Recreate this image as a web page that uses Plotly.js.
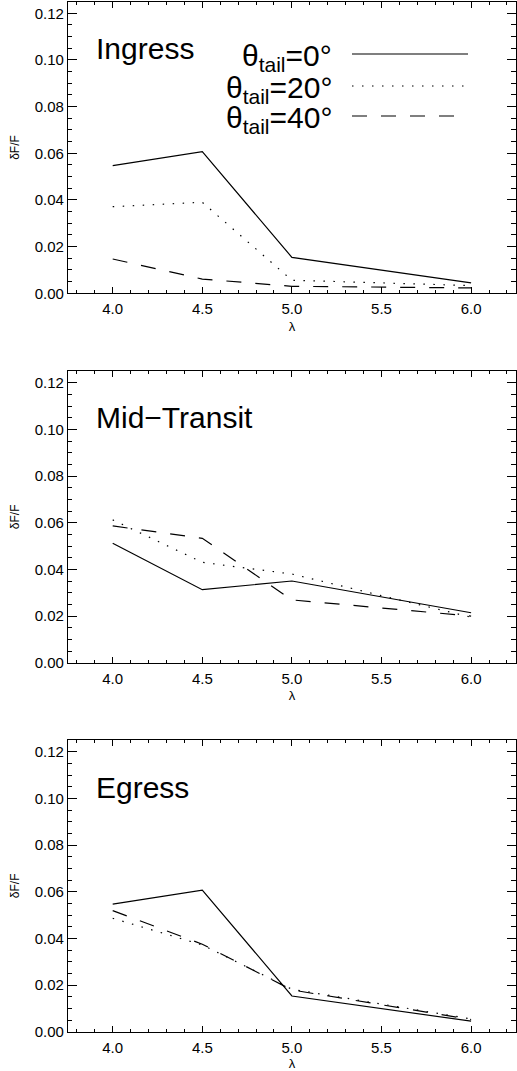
<!DOCTYPE html>
<html>
<head>
<meta charset="utf-8">
<script src="https://cdn.plot.ly/plotly-3.0.1.min.js"></script>
<style>html,body{margin:0;padding:0;background:#fff;}#chart{width:517px;height:1071px;}</style>
</head>
<body>
<div id="chart"></div>
<script>
// ---- data ----
const lambda = [4.0, 4.5, 5.0, 6.0];
const panelNames = ["Ingress", "Mid\u2212Transit", "Egress"];
const seriesNames = ["\u03b8<sub>tail</sub>=0\u00b0", "\u03b8<sub>tail</sub>=20\u00b0", "\u03b8<sub>tail</sub>=40\u00b0"];

const ingress0  = [0.0547, 0.0607, 0.0154, 0.0045];
const ingress20 = [0.0371, 0.0390, 0.0056, 0.0033];
const ingress40 = [0.0147, 0.0061, 0.0030, 0.0023];

const mid0  = [0.0512, 0.0313, 0.0350, 0.0214];
const mid20 = [0.0612, 0.0430, 0.0380, 0.0195];
const mid40 = [0.0586, 0.0533, 0.0269, 0.0200];

const egress0  = [0.0547, 0.0607, 0.0153, 0.0045];
const egress20 = [0.0486, 0.0372, 0.0182, 0.0055];
const egress40 = [0.0519, 0.0375, 0.0179, 0.0052];

// ---- styles ----
const FONT = "Liberation Sans, Arial, Helvetica, sans-serif";
const dashes = ["solid", "1.5px,8.5px", "15px,14px"];
const W = 517, H = 1071;
const xDom = [67.9 / W, 515.9 / W];
const yDoms = [
  [(H - 293.3) / H, (H - 1.6) / H],
  [(H - 662.7) / H, (H - 371.0) / H],
  [(H - 1031.7) / H, (H - 740.0) / H]
];
const panels = [
  [ingress0, ingress20, ingress40],
  [mid0, mid20, mid40],
  [egress0, egress20, egress40]
];

const traces = [];
panels.forEach((p, i) => {
  const sfx = i === 0 ? "" : String(i + 1);
  p.forEach((vals, j) => {
    traces.push({
      x: lambda, y: vals, type: "scatter", mode: "lines",
      xaxis: "x" + sfx, yaxis: "y" + sfx, name: seriesNames[j],
      line: {color: "#000", width: 1.2, dash: dashes[j]},
      showlegend: false, hoverinfo: "skip"
    });
  });
});

const layout = {
  width: W, height: H,
  margin: {l: 0, r: 0, t: 0, b: 0},
  paper_bgcolor: "#fff", plot_bgcolor: "#fff",
  font: {family: FONT, color: "#000", size: 15},
  showlegend: false,
  annotations: [],
  shapes: []
};

for (let i = 0; i < 3; i++) {
  const sfx = i === 0 ? "" : String(i + 1);
  layout["xaxis" + sfx] = {
    domain: xDom, anchor: "y" + sfx, range: [3.75, 6.25],
    tick0: 4, dtick: 0.5, tickformat: ".1f",
    ticks: "inside", ticklen: 6, tickwidth: 1, tickcolor: "#000",
    minor: {dtick: 0.1, tick0: 4, ticks: "inside", ticklen: 3, tickwidth: 1, tickcolor: "#000"},
    showline: true, linecolor: "#000", linewidth: 1, mirror: "ticks",
    showgrid: false, zeroline: false,
    tickfont: {family: FONT, size: 15, color: "#000"},
    ticklabelstandoff: 2,
    title: {text: "\u03bb", font: {family: FONT, size: 13, color: "#000"}, standoff: 5}
  };
  layout["yaxis" + sfx] = {
    domain: yDoms[i], anchor: "x" + sfx, range: [0, 0.125],
    tick0: 0, dtick: 0.02, tickformat: ".2f",
    ticks: "inside", ticklen: 9, tickwidth: 1, tickcolor: "#000",
    minor: {dtick: 0.005, tick0: 0, ticks: "inside", ticklen: 4.5, tickwidth: 1, tickcolor: "#000"},
    showline: true, linecolor: "#000", linewidth: 1, mirror: "ticks",
    showgrid: false, zeroline: false,
    tickfont: {family: FONT, size: 15, color: "#000"},
    title: {text: "\u03b4F/F", font: {family: FONT, size: 12, color: "#000"}, standoff: 12}
  };
  // panel name
  const topPx = [1.6, 371.0, 740.0][i];
  layout.annotations.push({
    xref: "paper", yref: "paper", x: 94 / W, y: 1 - (topPx + 47) / H,
    xanchor: "left", yanchor: "middle", showarrow: false,
    text: panelNames[i], font: {family: FONT, size: 30, color: "#000"}
  });
}

// legend (top panel)
const legY = [54, 86, 116];
seriesNames.forEach((nm, j) => {
  layout.annotations.push({
    xref: "paper", yref: "paper", x: 334 / W, y: 1 - (legY[j] + 3) / H,
    xanchor: "right", yanchor: "middle", showarrow: false,
    text: nm, font: {family: FONT, size: 30, color: "#000"}
  });
  layout.shapes.push({
    type: "line", xref: "paper", yref: "paper",
    x0: 352 / W, x1: 468 / W, y0: 1 - legY[j] / H, y1: 1 - legY[j] / H,
    line: {color: "#000", width: 1.2, dash: dashes[j]}
  });
});

Plotly.newPlot("chart", traces, layout, {staticPlot: true, displayModeBar: false});
</script>
</body>
</html>
